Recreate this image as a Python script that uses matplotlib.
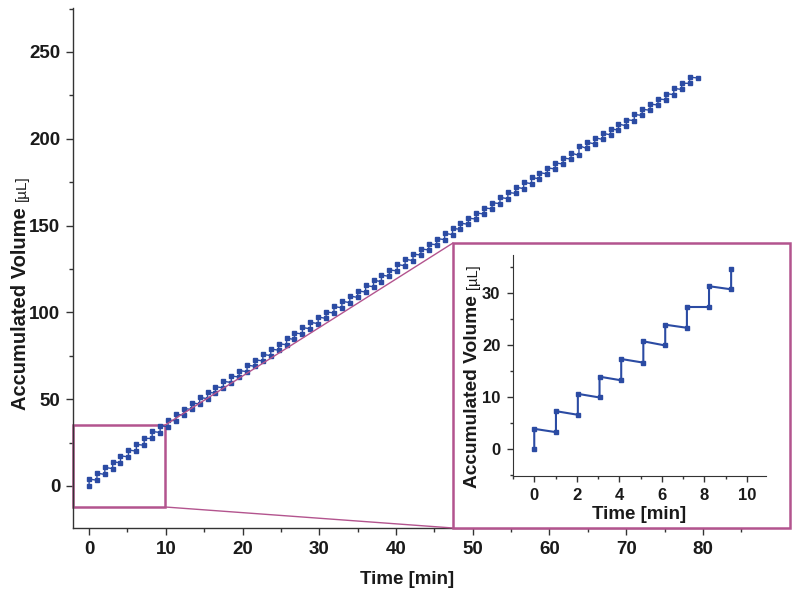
import matplotlib
matplotlib.use("Agg")
import matplotlib.pyplot as plt
from matplotlib.patches import Rectangle, ConnectionPatch
from matplotlib.ticker import MultipleLocator

plt.rcParams['font.family'] = ['Liberation Sans', 'DejaVu Sans']
plt.rcParams['font.weight'] = 'bold'

# ---- data: each time step has a low reading and a high reading ----
times = [0.00, 1.02, 2.05, 3.07, 4.09, 5.13, 6.16, 7.18, 8.22, 9.26,
         10.29, 11.32, 12.35, 13.38, 14.41, 15.44, 16.47, 17.50, 18.53, 19.56,
         20.59, 21.62, 22.65, 23.68, 24.71, 25.74, 26.77, 27.80, 28.83, 29.86,
         30.89, 31.92, 32.95, 33.98, 35.01, 36.04, 37.07, 38.10, 39.13, 40.16,
         41.19, 42.22, 43.25, 44.28, 45.31, 46.34, 47.37, 48.40, 49.43, 50.46,
         51.49, 52.52, 53.55, 54.58, 55.61, 56.64, 57.67, 58.70, 59.73, 60.76,
         61.79, 62.82, 63.85, 64.88, 65.91, 66.94, 67.97, 69.00, 70.03, 71.06,
         72.09, 73.12, 74.15, 75.18, 76.21, 77.24, 78.27, 79.30]
low_vals = [0.0, 3.33, 6.67, 10.0, 13.3, 16.7, 20.0, 23.4, 27.4, 30.8,
            34.2, 37.5, 40.8, 44.1, 47.2, 50.3, 53.4, 56.5, 59.6, 62.7,
            65.8, 68.9, 72.0, 75.1, 78.2, 81.3, 84.4, 87.5, 90.5, 93.5,
            96.5, 99.6, 102.6, 105.6, 108.6, 111.7, 114.7, 117.7, 120.7, 123.8,
            126.8, 129.8, 133.0, 135.9, 138.9, 141.9, 144.8, 147.8, 150.7, 153.7,
            156.6, 159.6, 162.6, 165.5, 168.5, 171.3, 174.1, 176.9, 179.7, 182.5,
            185.4, 188.2, 190.4, 194.4, 197.0, 199.6, 202.2, 204.9, 207.4, 210.4,
            213.4, 216.4, 219.4, 222.4, 225.4, 228.4, 231.9, 235.0]
high_vals = [3.97, 7.37, 10.7, 14.0, 17.4, 20.8, 24.0, 27.4, 31.4, 34.7,
             38.0, 41.3, 44.6, 47.9, 51.0, 54.1, 57.2, 60.3, 63.4, 66.5,
             69.6, 72.7, 75.8, 78.9, 82.0, 85.1, 88.2, 91.3, 94.3, 97.3,
             100.3, 103.4, 106.4, 109.4, 112.4, 115.5, 118.5, 121.5, 124.5, 127.6,
             130.6, 133.6, 136.6, 139.5, 142.5, 145.5, 148.4, 151.4, 154.3, 157.3,
             160.2, 163.2, 166.2, 169.1, 172.1, 174.9, 177.7, 180.5, 183.3, 186.1,
             189.0, 191.8, 196.0, 198.0, 200.6, 203.2, 205.8, 208.5, 211.0, 214.0,
             217.0, 220.0, 223.0, 226.0, 229.0, 232.0, 235.5]
n_inset = 10

x_label = "Time [min]"
y_label = "Accumulated Volume "
y_unit = "[\u00b5L]"

BLUE = '#2b4ba3'
PINK = '#b3548e'
TXT = '#1a1a1a'

# build the zig-zag sequence
xs, ys = [], []
for i, t in enumerate(times):
    xs.append(t); ys.append(low_vals[i])
    if i < len(high_vals):
        xs.append(t); ys.append(high_vals[i])
xs_in = xs[:2 * n_inset]
ys_in = ys[:2 * n_inset]

W, H = 800, 597
fig = plt.figure(figsize=(8.0, 5.97), dpi=100)

def fx(px): return px / W
def fy(py): return 1 - py / H

# main axes
ax = fig.add_axes([fx(73), fy(528), (742 - 73) / W, (528 - 8) / H])
ax.plot(xs, ys, '-s', color=BLUE, lw=1.0, ms=2.7, mec=BLUE, mfc=BLUE, zorder=3)
ax.set_xlim(-2.1, 85.1)
ax.set_ylim(-24.2, 275.3)
for s in ['top', 'right']:
    ax.spines[s].set_visible(False)
for s in ['left', 'bottom']:
    ax.spines[s].set_color('#333333')
    ax.spines[s].set_linewidth(1.0)
ax.xaxis.set_major_locator(MultipleLocator(10))
ax.xaxis.set_minor_locator(MultipleLocator(5))
ax.yaxis.set_major_locator(MultipleLocator(50))
ax.yaxis.set_minor_locator(MultipleLocator(25))
ax.tick_params(which='major', direction='out', length=5, width=1, colors='#333333',
               labelsize=13.5, labelcolor=TXT, pad=4)
ax.tick_params(which='minor', direction='out', length=3, width=1, colors='#333333')
for lab in ax.get_xticklabels() + ax.get_yticklabels():
    lab.set_fontweight('bold')
ax.set_xlabel(x_label, fontsize=13.5, fontweight='bold', color=TXT, labelpad=10)

# zoom box in main axes
bx0, bx1, by0, by1 = -2.1, 9.9, -12.1, 35.1
ax.add_patch(Rectangle((bx0, by0), bx1 - bx0, by1 - by0, fill=False,
                       ec=PINK, lw=1.8, zorder=2, clip_on=False))

# inset frame (figure coords)
fr_x0, fr_x1, fr_y0, fr_y1 = 453, 790, 243, 528
frame = Rectangle((fx(fr_x0), fy(fr_y1)), (fr_x1 - fr_x0) / W, (fr_y1 - fr_y0) / H,
                  transform=fig.transFigure, fc='white', ec=PINK, lw=1.8, zorder=5)
fig.patches.append(frame)

# connector lines
for (dx, dy), (px, py) in [((bx1, by1), (fr_x0, fr_y0)), ((bx1, by0), (fr_x0, fr_y1))]:
    cp = ConnectionPatch(xyA=(dx, dy), coordsA=ax.transData,
                         xyB=(fx(px), fy(py)), coordsB=fig.transFigure,
                         color=PINK, lw=1.0, zorder=1)
    fig.add_artist(cp)

# inset axes
ax2 = fig.add_axes([fx(513), fy(476), (766 - 513) / W, (476 - 255) / H], zorder=6)
ax2.patch.set_alpha(0)
ax2.plot(xs_in, ys_in, '-s', color=BLUE, lw=1.5, ms=3.2, mec=BLUE, mfc=BLUE)
ax2.set_xlim(-1.0, 10.9)
ax2.set_ylim(-5.1, 37.4)
for s in ['top', 'right']:
    ax2.spines[s].set_visible(False)
for s in ['left', 'bottom']:
    ax2.spines[s].set_color('#333333')
ax2.xaxis.set_major_locator(MultipleLocator(2))
ax2.xaxis.set_minor_locator(MultipleLocator(1))
ax2.yaxis.set_major_locator(MultipleLocator(10))
ax2.yaxis.set_minor_locator(MultipleLocator(5))
ax2.tick_params(which='major', direction='out', length=4, width=1, colors='#333333',
                labelsize=12, labelcolor=TXT, pad=5)
ax2.tick_params(which='minor', direction='out', length=2.5, width=1, colors='#333333')
for lab in ax2.get_xticklabels() + ax2.get_yticklabels():
    lab.set_fontweight('bold')
ax2.set_xlabel(x_label, fontsize=13.5, fontweight='bold', color=TXT, labelpad=2)

# y labels with smaller unit part
def rot_label(x_px, y_start_px, size, unit_size):
    t1 = fig.text(fx(x_px), fy(y_start_px), y_label, rotation=90, rotation_mode='anchor',
                  ha='left', va='baseline', fontsize=size, fontweight='bold',
                  color=TXT, zorder=10)
    fig.canvas.draw()
    bb = t1.get_window_extent()
    fig.text(fx(x_px), (bb.y1 + 1) / H, y_unit, rotation=90, rotation_mode='anchor',
             ha='left', va='baseline', fontsize=unit_size, fontweight='normal',
             color=TXT, zorder=10)

rot_label(26, 410, 14.5, 11)
rot_label(477, 488, 13.8, 10.5)

fig.savefig('out.png', dpi=100)
